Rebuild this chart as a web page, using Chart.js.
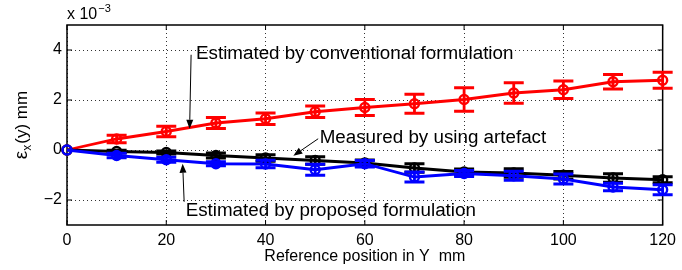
<!DOCTYPE html>
<html><head><meta charset="utf-8">
<script src="https://cdn.jsdelivr.net/npm/chart.js@4/dist/chart.umd.min.js"></script>
<style>html,body{margin:0;padding:0;background:#fff;}#wrap{width:682px;height:270px;}</style>
</head><body><div id="wrap"><canvas id="c" width="682" height="270"></canvas></div>
<script>
const positions = [0,10,20,30,40,50,60,70,80,90,100,110,120];
const conventional    = [0,0.44,0.74,1.08,1.25,1.53,1.70,1.85,2.02,2.28,2.41,2.73,2.79];
const conventionalErr = [0,0.15,0.21,0.22,0.23,0.23,0.32,0.38,0.47,0.41,0.35,0.29,0.32];
const measured    = [0,-0.06,-0.10,-0.22,-0.32,-0.42,-0.52,-0.72,-0.88,-0.92,-1.01,-1.12,-1.19];
const measuredErr = [0,0.05,0.06,0.10,0.13,0.15,0.12,0.17,0.12,0.17,0.15,0.17,0.12];
const proposed    = [0,-0.22,-0.39,-0.55,-0.56,-0.79,-0.55,-1.08,-0.94,-1.03,-1.16,-1.48,-1.59];
const proposedErr = [0,0.09,0.10,0.08,0.15,0.22,0.13,0.20,0.12,0.18,0.20,0.15,0.20];
const xTicks = [0,20,40,60,80,100,120];
const yTicks = [-2,0,2,4];
const xTitle = 'Reference position in Y  mm';
const notes = [
  {text:'Estimated by conventional formulation', tx:26.0, ty:3.64, from:[25.0,3.81], to:[24.7,0.85]},
  {text:'Measured by using artefact', tx:50.9, ty:0.30, from:[50.6,0.45], to:[45.6,-0.23]},
  {text:'Estimated by proposed formulation', tx:23.9, ty:-2.63, from:[23.6,-2.07], to:[23.3,-0.55]}
];
const FONT = "'Liberation Sans', Arial, Helvetica, sans-serif";

function pts(vals){ return positions.map((p,i)=>({x:p,y:vals[i]})); }
function mk(label, vals, errs, color, order){
  return {label, data:pts(vals), errors:errs, borderColor:color, backgroundColor:color,
    borderWidth:2.8, pointRadius:4.5, pointBorderWidth:2.4, pointBackgroundColor:'rgba(0,0,0,0)',
    pointBorderColor:color, tension:0, clip:false, order};
}

const errorBars = {
  id:'errorBars',
  afterDatasetDraw(chart, args){
    const ds = chart.data.datasets[args.index];
    const {ctx, scales:{x,y}} = chart;
    ctx.save();
    ctx.strokeStyle = ds.borderColor; ctx.lineWidth = 2.8;
    ds.data.forEach((d,i)=>{
      const e = ds.errors[i]; if(!e) return;
      const px = x.getPixelForValue(d.x);
      const t = y.getPixelForValue(d.y+e), b = y.getPixelForValue(d.y-e);
      const w = 10;
      ctx.beginPath();
      ctx.moveTo(px,t); ctx.lineTo(px,b);
      ctx.moveTo(px-w,t); ctx.lineTo(px+w,t);
      ctx.moveTo(px-w,b); ctx.lineTo(px+w,b);
      ctx.stroke();
    });
    ctx.restore();
  }
};

const frame = {
  id:'frame',
  beforeDatasetsDraw(chart){
    const {ctx, chartArea:a, scales:{x,y}} = chart;
    ctx.save();
    ctx.strokeStyle='#000'; ctx.lineWidth=1.5;
    ctx.strokeRect(a.left, a.top, a.right-a.left, a.bottom-a.top);
    ctx.lineWidth=1; const L=5;
    ctx.beginPath();
    xTicks.forEach(v=>{const p=x.getPixelForValue(v); ctx.moveTo(p,a.bottom); ctx.lineTo(p,a.bottom-L); ctx.moveTo(p,a.top); ctx.lineTo(p,a.top+L);});
    yTicks.forEach(v=>{const p=y.getPixelForValue(v); ctx.moveTo(a.left,p); ctx.lineTo(a.left+L,p); ctx.moveTo(a.right,p); ctx.lineTo(a.right-L,p);});
    ctx.stroke();
    ctx.restore();
  }
};

const texts = {
  id:'texts',
  afterDraw(chart){
    const {ctx, chartArea:a, scales:{x,y}} = chart;
    ctx.save();
    ctx.fillStyle='#000'; ctx.strokeStyle='#000';
    ctx.textBaseline='alphabetic'; ctx.textAlign='left';
    ctx.font = '16px '+FONT;
    ctx.fillText('x 10', a.left, 19);
    const w = ctx.measureText('x 10').width;
    ctx.font = '11px '+FONT;
    ctx.fillText('\u22123', a.left+w+1, 12);
    // y title
    ctx.save();
    ctx.translate(27, 125);
    ctx.rotate(-Math.PI/2);
    const parts = [['\u03b5',19,0],['x',12,4],['(y) mm',17,0]];
    let total = 0;
    parts.forEach(p=>{ctx.font=p[1]+'px '+FONT; total += ctx.measureText(p[0]).width + (p[0]==='x'?1:0);});
    let cx = -total/2;
    parts.forEach(p=>{ctx.font=p[1]+'px '+FONT; ctx.fillText(p[0], cx, p[2]); cx += ctx.measureText(p[0]).width + (p[0]==='x'?1:0);});
    ctx.restore();
    // annotations
    ctx.font = '18.8px '+FONT;
    notes.forEach(n=>{
      ctx.fillText(n.text, x.getPixelForValue(n.tx), y.getPixelForValue(n.ty));
      const x1=x.getPixelForValue(n.from[0]), y1=y.getPixelForValue(n.from[1]);
      const x2=x.getPixelForValue(n.to[0]), y2=y.getPixelForValue(n.to[1]);
      const ang = Math.atan2(y2-y1, x2-x1), hl=9, hw=3.5;
      const bx = x2 - hl*Math.cos(ang), by = y2 - hl*Math.sin(ang);
      ctx.lineWidth=1;
      ctx.beginPath(); ctx.moveTo(x1,y1); ctx.lineTo(bx,by); ctx.stroke();
      ctx.beginPath();
      ctx.moveTo(x2,y2);
      ctx.lineTo(bx + hw*Math.sin(ang), by - hw*Math.cos(ang));
      ctx.lineTo(bx - hw*Math.sin(ang), by + hw*Math.cos(ang));
      ctx.closePath(); ctx.fill();
    });
    ctx.restore();
  }
};

const gridOpts = {color:'rgba(0,0,0,0.8)', lineWidth:1, drawTicks:false};
new Chart(document.getElementById('c'), {
  type:'line',
  data:{datasets:[
    mk('Estimated by proposed formulation', proposed, proposedErr, '#0000ff', 0),
    mk('Measured by using artefact', measured, measuredErr, '#000000', 1),
    mk('Estimated by conventional formulation', conventional, conventionalErr, '#ff0000', 2)
  ]},
  options:{
    responsive:false, animation:false, devicePixelRatio:1,
    layout:{padding:{top:25,right:15,left:0,bottom:0}},
    plugins:{legend:{display:false}, tooltip:{enabled:false}},
    scales:{
      x:{type:'linear', min:0, max:120,
        afterBuildTicks:s=>{s.ticks = xTicks.map(v=>({value:v}));},
        afterFit:s=>{s.height=45;},
        grid:gridOpts, border:{display:false, dash:[1,3]},
        ticks:{padding:6, color:'#000', font:{size:16, family:FONT}, maxRotation:0, autoSkip:false},
        title:{display:true, text:xTitle, color:'#000', font:{size:16, family:FONT}, padding:{top:0,bottom:4}}
      },
      y:{type:'linear', min:-3, max:5,
        afterBuildTicks:s=>{s.ticks = yTicks.map(v=>({value:v}));},
        afterFit:s=>{s.width=67;},
        grid:gridOpts, border:{display:false, dash:[1,3]},
        ticks:{padding:5, color:'#000', font:{size:16, family:FONT}, callback:v=>String(v).replace('-','\u2212')}
      }
    }
  },
  plugins:[frame, errorBars, texts]
});
</script></body></html>
